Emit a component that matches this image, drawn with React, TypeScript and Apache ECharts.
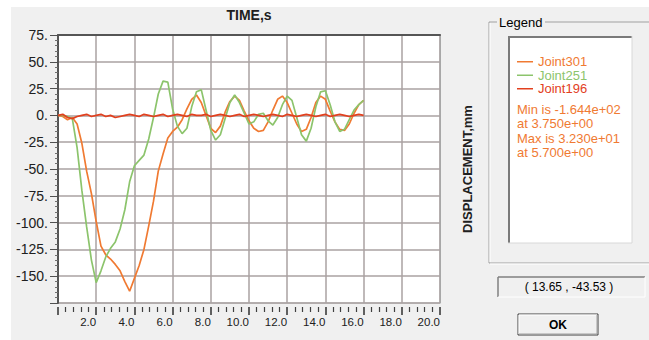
import React, { useEffect, useRef } from "react";
import * as echarts from "echarts";

const STEP = 0.25;
const seriesNames = ["Joint301", "Joint251", "Joint196"];
const joint301 = [0,-1,-4,-2,-8,-26,-52,-73,-99,-122,-130,-134,-139,-145,-155,-164,-152,-140,-125,-103,-80,-52,-36,-21,-15,-11,-4,6,15,19,12,0,-12,-16,-10,3,13,18,14,4,-5,-12,-15,-14,-6,5,15,18,12,2,-8,-15,-13,-2,12,18,15,4,-6,-13,-14,-8,2,10,14];
const joint251 = [0,0,-1,-3,-30,-70,-104,-135,-156,-145,-132,-124,-118,-106,-88,-62,-47,-42,-37,-22,-2,20,32,31,6,-10,-17,-12,8,22,24,5,-14,-23,-18,-3,12,19,12,2,-8,-6,1,2,-5,-9,-2,10,18,14,-2,-18,-24,-12,8,22,23,10,-6,-15,-13,-4,5,10,14];
const joint196 = [0,1,-2,-3,-1,0,1,-1,0,1,-1,0,-2,-1,0,1,0,-1,1,0,-1,0,1,-1,0,1,0,-1,1,0,0,1,-1,0,1,0,-1,0,1,-1,0,1,0,-1,0,1,0,-1,1,0,-1,0,1,0,-1,0,1,-1,0,1,0,-1,0,1,0];
const statLines = ["Min is -1.644e+02", "at 3.750e+00", "Max is 3.230e+01", "at 5.700e+00"];
const cursorText = "( 13.65 , -43.53 )";
const colors = ["#f07a32", "#8cc46c", "#e2401e"];

const FONT = "'Liberation Sans', Arial, sans-serif";

function pairs(vals: number[]) {
  return vals.map((v, i) => [i * STEP, v]);
}

export default function App() {
  const ref = useRef<HTMLDivElement>(null);
  useEffect(() => {
    const chart = echarts.init(ref.current!, null, { renderer: "svg" });
    const line = (x1: number, y1: number, x2: number, y2: number, stroke: string, w = 1) => ({
      type: "line",
      shape: { x1, y1, x2, y2 },
      style: { stroke, lineWidth: w },
      silent: true,
    });
    const graphics: any[] = [
      { type: "rect", shape: { x: 0, y: 0, width: 649, height: 7 }, style: { fill: "#ffffff" } },
      { type: "rect", shape: { x: 0, y: 0, width: 11, height: 340 }, style: { fill: "#ffffff" } },
      // group box
      line(489, 22, 497, 22, "#a0a0a0"),
      line(545, 22, 649, 22, "#a0a0a0"),
      line(489, 22, 489, 263, "#a0a0a0"),
      line(489, 263, 649, 263, "#a0a0a0"),
      line(490, 23, 490, 262, "#ffffff"),
      line(490, 264, 649, 264, "#ffffff"),
      {
        type: "text",
        style: { text: "Legend", x: 499, y: 22, fill: "#000", font: `13px ${FONT}`, verticalAlign: "middle" },
      },
      // inner white box
      { type: "rect", shape: { x: 508, y: 36, width: 124, height: 207 }, style: { fill: "#ffffff" } },
      line(508, 37, 632, 37, "#7a7a7a", 2),
      line(509, 36, 509, 243, "#7a7a7a", 2),
      line(632, 36, 632, 243, "#d8d8d8"),
      line(508, 243, 632, 243, "#d8d8d8"),
      // coordinate box
      line(498, 277, 645, 277, "#808080", 1.5),
      line(498, 277, 498, 297, "#808080", 1.5),
      line(645, 277, 645, 297, "#ffffff"),
      line(498, 297, 645, 297, "#ffffff"),
      {
        type: "text",
        style: { text: cursorText, x: 569, y: 287, fill: "#000", font: `12px ${FONT}`, align: "center", verticalAlign: "middle" },
      },
      // OK button
      { type: "rect", shape: { x: 518, y: 314, width: 80, height: 21 }, style: { fill: "#f0f0f0", stroke: "#404040", lineWidth: 1 } },
      line(519, 315, 597, 315, "#ffffff"),
      line(519, 315, 519, 334, "#ffffff"),
      line(519, 334, 597, 334, "#a0a0a0"),
      line(597, 315, 597, 334, "#a0a0a0"),
      {
        type: "text",
        style: { text: "OK", x: 558, y: 325, fill: "#000", font: `bold 12px ${FONT}`, align: "center", verticalAlign: "middle" },
      },
    ];
    statLines.forEach((t, i) => {
      graphics.push({
        type: "text",
        style: { text: t, x: 517, y: [109, 123, 138, 152][i], fill: colors[0], font: `13px ${FONT}`, verticalAlign: "middle" },
      });
    });

    const data = [joint301, joint251, joint196];
    const drawOrder = [1, 0, 2];

    chart.setOption({
      animation: false,
      backgroundColor: "#f0f0f0",
      textStyle: { fontFamily: FONT },
      grid: {
        left: 58,
        top: 35,
        width: 382,
        height: 268,
        show: true,
        backgroundColor: "#ffffff",
        borderColor: "#a8a8a8",
        borderWidth: 1,
      },
      legend: {
        orient: "vertical",
        align: "left",
        left: 517,
        top: 55,
        padding: 0,
        itemWidth: 16,
        itemHeight: 1.5,
        itemGap: 0,
        icon: "rect",
        selectedMode: false,
        data: seriesNames.map((n, i) => ({
          name: n,
          textStyle: { color: colors[i], fontSize: 13, lineHeight: 13.5 },
        })),
      },
      xAxis: [
        {
          type: "value",
          min: 0,
          max: 20,
          interval: 2,
          position: "bottom",
          offset: 4,
          axisLine: { show: false, onZero: false },
          axisTick: { show: true, length: 8, lineStyle: { color: "#303030", width: 1.5 } },
          minorTick: { show: true, splitNumber: 5, length: 5, lineStyle: { color: "#404040", width: 1.2 } },
          splitLine: { show: true, lineStyle: { color: "#aaa2a2", width: 1.5 } },
          axisLabel: {
            formatter: (v: number) => (v === 0 ? "" : v.toFixed(1)),
            fontSize: 11.5,
            color: "#202020",
            align: "right",
            margin: 9,
          },
        },
        {
          type: "value",
          min: 0,
          max: 20,
          position: "top",
          name: "TIME,s",
          nameLocation: "middle",
          nameGap: 13,
          nameTextStyle: { fontSize: 14, fontWeight: "bold", color: "#202020" },
          axisLine: { show: true, onZero: false, lineStyle: { color: "#555555", width: 2 } },
          axisTick: { show: false },
          axisLabel: { show: false },
          splitLine: { show: false },
        },
      ],
      yAxis: [
        {
          type: "value",
          min: -175,
          max: 75,
          interval: 25,
          position: "left",
          axisLine: { show: true, onZero: false, lineStyle: { color: "#555555", width: 2 } },
          axisTick: { show: true, length: 8, lineStyle: { color: "#505050" } },
          minorTick: { show: true, splitNumber: 5, length: 3, lineStyle: { color: "#707070" } },
          splitLine: { show: true, lineStyle: { color: "#aaa2a2", width: 1.5 } },
          axisLabel: {
            formatter: (v: number) => (v === -175 ? "" : `${v}.`),
            fontSize: 14,
            color: "#202020",
            margin: 10,
          },
        },
        {
          type: "value",
          min: -175,
          max: 75,
          interval: 25,
          position: "right",
          name: "DISPLACEMENT,mm",
          nameLocation: "middle",
          nameRotate: 90,
          nameGap: 21,
          nameTextStyle: { fontSize: 13, fontWeight: "bold", color: "#202020" },
          axisLine: { show: true, onZero: false, lineStyle: { color: "#a8a8a8", width: 1 } },
          axisTick: { show: false },
          axisLabel: { show: false },
          splitLine: { show: false },
        },
      ],
      series: drawOrder.map((i) => ({
        name: seriesNames[i],
        type: "line",
        data: pairs(data[i]),
        showSymbol: false,
        symbol: "none",
        smooth: false,
        color: colors[i],
        lineStyle: { color: colors[i], width: 1.7 },
        z: 3 + i,
      })),
      graphic: graphics,
    });
    return () => chart.dispose();
  }, []);
  return (
    <div
      ref={ref}
      style={{ position: "fixed", left: 0, top: 0, width: 649, height: 340 }}
    />
  );
}
